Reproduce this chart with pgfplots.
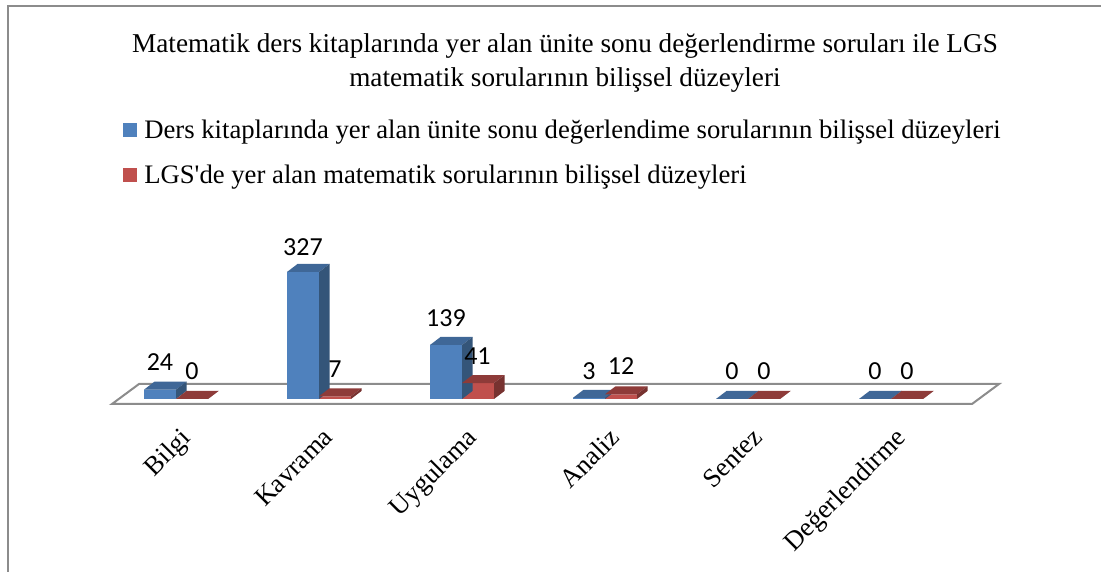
\documentclass[border=0pt]{standalone}
\usepackage{pgfplots}
\pgfplotsset{compat=1.18}
\usepackage{fontspec}
\setmainfont{Liberation Serif}
\newfontfamily\lbl{Carlito}
\definecolor{bfront}{HTML}{4F81BD}
\definecolor{btop}{HTML}{3F6797}
\definecolor{bside}{HTML}{345579}
\definecolor{rfront}{HTML}{C0504D}
\definecolor{rtop}{HTML}{8E3B39}
\definecolor{rside}{HTML}{773230}
\definecolor{grayline}{HTML}{8C8C8C}
\newcommand{\faces}[5]{%
  \addplot[fill=#4,draw=none,forget plot] coordinates {(#1,#2) (#3,#2) (#3+0.0734,#2+20.6) (#1+0.0734,#2+20.6)} --cycle;
  \addplot[fill=#5,draw=none,forget plot] coordinates {(#3,0) (#3,#2) (#3+0.0734,#2+20.6) (#3+0.0734,20.6)} --cycle;
}
\begin{document}
\begin{tikzpicture}
\begin{axis}[
  name=ax,
  scale only axis, width=1101pt, height=572pt,
  xmin=-1.2308, xmax=6.4685, ymin=-445.4, ymax=1027.3,
  axis lines=none,
  legend style={at={(axis cs:-0.37,724.5)},anchor=north west,draw=none,fill=none,
    font=\fontsize{26.7}{26.7}\selectfont,row sep=21pt,inner sep=0pt},
  legend cell align=left,
]
\addplot[draw=grayline,line width=2pt,forget plot] coordinates {(-1.1748,-445.4) (-1.1748,1012) (6.4685,1012)};
\addplot[fill=white,draw=grayline,line width=2pt,forget plot] coordinates {(-0.4476,-12.9) (5.5664,-12.9) (5.7552,38.6) (-0.2587,38.6)} --cycle;
\addplot[ybar,bar width=32pt,bar shift=-16pt,fill=bfront,draw=none,
  legend image code/.code={\fill[bfront] (0pt,-7pt) rectangle (14pt,7pt); \path (19pt,0pt);}]
  coordinates {(0,24) (1,327) (2,139) (3,3) (4,0) (5,0)};
\addplot[ybar,bar width=32pt,bar shift=16pt,fill=rfront,draw=none,
  legend image code/.code={\fill[rfront] (0pt,-7pt) rectangle (14pt,7pt); \path (19pt,0pt);}]
  coordinates {(0,0) (1,7) (2,41) (3,12) (4,0) (5,0)};
\legend{Ders kitaplarında yer alan ünite sonu değerlendime sorularının bilişsel düzeyleri,LGS\textquotesingle de yer alan matematik sorularının bilişsel düzeyleri}
\faces{-0.2238}{24}{0}{btop}{bside}
\faces{0}{0}{0.2238}{rtop}{rside}
\faces{0.7762}{327}{1}{btop}{bside}
\faces{1}{7}{1.2238}{rtop}{rside}
\faces{1.7762}{139}{2}{btop}{bside}
\faces{2}{41}{2.2238}{rtop}{rside}
\faces{2.7762}{3}{3}{btop}{bside}
\faces{3}{12}{3.2238}{rtop}{rside}
\faces{3.7762}{0}{4}{btop}{bside}
\faces{4}{0}{4.2238}{rtop}{rside}
\faces{4.7762}{0}{5}{btop}{bside}
\faces{5}{0}{5.2238}{rtop}{rside}
\node[font=\fontsize{27.2}{34}\selectfont,align=center] at (axis cs:2.72,866) {Matematik ders kitaplarında yer alan ünite sonu değerlendirme soruları ile LGS\\matematik sorularının bilişsel düzeyleri};
\tikzset{v/.style={font=\lbl\fontsize{26}{26}\selectfont,inner sep=0pt}}
\node[v] at (axis cs:-0.112,95) {24};
\node[v] at (axis cs:0.112,72) {0};
\node[v] at (axis cs:0.888,391) {327};
\node[v] at (axis cs:1.112,77) {7};
\node[v] at (axis cs:1.888,208) {139};
\node[v] at (axis cs:2.108,111) {41};
\node[v] at (axis cs:2.888,72) {3};
\node[v] at (axis cs:3.112,85) {12};
\node[v] at (axis cs:3.888,72) {0};
\node[v] at (axis cs:4.112,72) {0};
\node[v] at (axis cs:4.888,72) {0};
\node[v] at (axis cs:5.112,72) {0};
\tikzset{c/.style={font=\fontsize{26.6}{26.6}\selectfont,rotate=45,anchor=north east,inner sep=0pt}}
\node[c] at (axis cs:0.021,-70) {Bilgi};
\node[c] at (axis cs:1.021,-70) {Kavrama};
\node[c] at (axis cs:2.021,-70) {Uygulama};
\node[c] at (axis cs:3.021,-70) {Analiz};
\node[c] at (axis cs:4.021,-70) {Sentez};
\node[c] at (axis cs:5.021,-70) {Değerlendirme};
\end{axis}
\path[use as bounding box] (ax.south west) rectangle (ax.north east);
\end{tikzpicture}
\end{document}
